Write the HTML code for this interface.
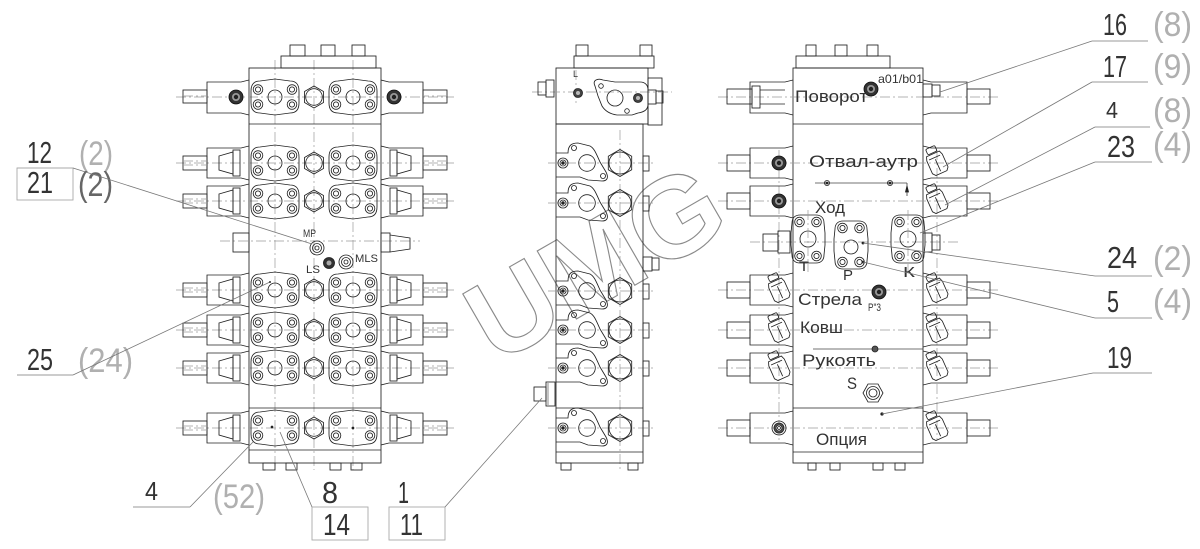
<!DOCTYPE html>
<html><head><meta charset="utf-8"><style>
html,body{margin:0;padding:0;background:#fff;}
svg{display:block;}
text{font-family:"Liberation Sans","DejaVu Sans",sans-serif;stroke:none;}
.cl{stroke:#9a9a9a;stroke-width:0.7;stroke-dasharray:10 3 2 3;fill:none}
.ld{stroke:#777;stroke-width:0.8;fill:none}
.lg{stroke:#aaa;stroke-width:0.9;fill:none}
</style></head><body>
<svg width="1200" height="549" viewBox="0 0 1200 549" xmlns="http://www.w3.org/2000/svg" xmlns:xlink="http://www.w3.org/1999/xlink">
<defs>
<g id="bolt"><circle r="4.8"/><circle r="2.6"/></g>
<g id="fl">
<path d="M-24,-6 C-24,-13 -21,-16 -15,-16 L0,-18 L15,-16 C21,-16 24,-13 24,-6 L24,6 C24,13 21,16 15,16 L0,18 L-15,16 C-21,16 -24,13 -24,6 Z"/>
<use href="#bolt" x="-17" y="-7.5"/><use href="#bolt" x="17" y="-7.5"/><use href="#bolt" x="-17" y="7.5"/><use href="#bolt" x="17" y="7.5"/>
</g>
<g id="hex"><polygon points="0,-11 9.5,-5.5 9.5,5.5 0,11 -9.5,5.5 -9.5,-5.5"/><circle r="8.3"/></g>
<g id="hexb"><polygon points="0,-13.5 11.7,-6.7 11.7,6.7 0,13.5 -11.7,6.7 -11.7,-6.7"/><circle r="11"/></g>
<g id="dplug"><circle r="7" fill="#333" stroke="#111"/><circle r="4" fill="#999" stroke="none"/><circle r="2.2" fill="#222" stroke="none"/></g>
<g id="lp">
<path d="M249,-17 L241,-15 L207,-15 L207,15 L241,15 L249,17"/>
<rect x="183" y="-7" width="24" height="14"/>
<line class="cl" x1="183" y1="-2" x2="207" y2="-2"/><line class="cl" x1="183" y1="2" x2="207" y2="2"/>
<path d="M219,-7 L233,-11 L233,11 L219,7 Z"/>
<rect x="233" y="-13" width="7" height="26"/>
</g>
<g id="lp1">
<path d="M249,-17 L241,-15 L207,-15 L207,16 L241,16 L249,18"/>
<rect x="183" y="-7" width="24" height="13"/>
<line class="cl" x1="183" y1="-1" x2="207" y2="-1"/>
<use href="#dplug" x="236"/>
</g>
<g id="lvcore">
<line class="cl" x1="176" y1="0" x2="454" y2="0"/>
<use href="#fl" x="275"/><use href="#fl" x="353"/>
<use href="#hex" x="314"/>
<use href="#lp"/>
<use href="#lp" transform="translate(630,0) scale(-1,1)"/>
</g>
<g id="lvrow"><use href="#lvcore"/><circle cx="275" r="7"/><circle cx="353" r="7"/></g>
<g id="mvrow">
<line class="cl" x1="548" y1="0" x2="656" y2="0"/>
<path d="M556,-10 L568,-10 C568,-18 572,-20 578,-20 L590,-17 C594,-15 596,-10 600,-1 L606,9 C609,15 607,18 602,18 L588,17 L580,14 L556,14"/>
<circle cx="574" cy="-15" r="2.5"/><circle cx="603" cy="13" r="2.5"/>
<circle cx="563" r="5"/><circle cx="563" r="3"/><circle cx="563" r="1.3" fill="#222"/>
<circle cx="587" r="8.3"/>
<use href="#hexb" x="620"/>
<rect x="643" y="-7" width="6" height="15"/>
</g>
<g id="rlp">
<path d="M793,-17 L785,-15 L750,-15 L750,15 L785,15 L793,17"/>
<rect x="727" y="-8" width="23" height="16"/>
</g>
<g id="rrp">
<path d="M923,-17 L931,-15 L967,-15 L967,15 L931,15 L923,17"/>
<rect x="967" y="-8" width="23" height="16"/>
</g>
<g id="rvrow"><line class="cl" x1="718" y1="0" x2="1000" y2="0"/><use href="#rlp"/><use href="#rrp"/></g>
<g id="afit"><g transform="rotate(-24)">
<rect x="-5" y="-17" width="10" height="6" rx="1.5"/>
<path d="M-7,-10 L7,-10 L8.5,-6 L8.5,8 L6,11 L-6,11 L-8.5,8 L-8.5,-6 Z"/>
<line x1="-6" y1="-6" x2="6" y2="-6"/><line x1="0" y1="-4" x2="0" y2="9"/>
</g></g>
<g id="vfl">
<path d="M-8,-24 L8,-24 C13,-24 16,-21 16,-16 L17,-6 L17,6 L16,16 C16,21 13,24 8,24 L-8,24 C-13,24 -16,21 -16,16 L-17,6 L-17,-6 L-16,-16 C-16,-21 -13,-24 -8,-24 Z"/>
<use href="#bolt" x="-8.5" y="-17"/><use href="#bolt" x="8.5" y="-17"/><use href="#bolt" x="-8.5" y="17"/><use href="#bolt" x="8.5" y="17"/>
</g>
</defs>

<!-- watermark -->
<text x="0" y="40" transform="translate(595,262) rotate(-30)" text-anchor="middle" font-size="114" font-weight="bold" textLength="275" lengthAdjust="spacingAndGlyphs" style="fill:none;stroke:#8a8a8a;stroke-width:1.1">UMG</text>

<g fill="none" stroke="#222" stroke-width="0.85">
<!-- ============ LEFT VIEW ============ -->
<line class="cl" x1="275" y1="60" x2="275" y2="470"/>
<line class="cl" x1="314" y1="60" x2="314" y2="470"/>
<line class="cl" x1="353" y1="60" x2="353" y2="470"/>
<rect x="290" y="45" width="15" height="11"/><rect x="321" y="45" width="14" height="11"/><rect x="352" y="45" width="13" height="11"/>
<rect x="281" y="56" width="95" height="12"/>
<rect x="249" y="68" width="132" height="395"/>
<line x1="249" y1="124" x2="381" y2="124"/>
<line x1="249" y1="408" x2="381" y2="408"/>
<line x1="249" y1="450" x2="381" y2="450"/>
<rect x="263" y="463" width="12" height="7"/><rect x="286" y="463" width="11" height="7"/><rect x="330" y="463" width="11" height="7"/><rect x="351" y="463" width="11" height="7"/>
<!-- row 1 -->
<g transform="translate(0,97)">
<line class="cl" x1="176" y1="0" x2="454" y2="0"/>
<use href="#fl" x="275"/><use href="#fl" x="353"/><use href="#hex" x="314"/>
<circle cx="275" r="7"/><circle cx="353" r="7"/>
<use href="#lp1"/><use href="#lp1" transform="translate(630,0) scale(-1,1)"/>
</g>
<use href="#lvrow" y="163"/>
<use href="#lvrow" y="201"/>
<use href="#lvrow" y="290"/>
<use href="#lvrow" y="330"/>
<use href="#lvrow" y="368"/>
<use href="#lvcore" y="428"/>
<circle cx="272" cy="427" r="0.9" fill="#222"/><circle cx="353" cy="428" r="0.9" fill="#222"/>
<!-- middle row LV -->
<line class="cl" x1="220" y1="241" x2="420" y2="241"/>
<rect x="233" y="233" width="16" height="19"/>
<rect x="381" y="233" width="9" height="19"/>
<path d="M390,235 L410,238 L410,249 L390,252"/>
<circle cx="317" cy="248" r="7"/><circle cx="317" cy="248" r="4.5"/><circle cx="317" cy="248" r="2"/>
<circle cx="346" cy="262" r="7"/><circle cx="346" cy="262" r="4.5"/><circle cx="346" cy="262" r="2"/>
<circle cx="329" cy="263" r="5.5" fill="#333"/><circle cx="329" cy="263" r="2.5" fill="#aaa" stroke="none"/>
<text x="303" y="237" font-size="11" textLength="13" lengthAdjust="spacingAndGlyphs" fill="#333">MP</text>
<text x="306" y="273" font-size="11" textLength="14" lengthAdjust="spacingAndGlyphs" fill="#333">LS</text>
<text x="355" y="262" font-size="11" textLength="23" lengthAdjust="spacingAndGlyphs" fill="#333">MLS</text>

<!-- ============ MIDDLE VIEW ============ -->
<line class="cl" x1="620" y1="130" x2="620" y2="470"/>
<rect x="576" y="45" width="12" height="11"/><rect x="640" y="45" width="12" height="11"/>
<rect x="574" y="56" width="80" height="12"/>
<rect x="556" y="68" width="92" height="56"/>
<rect x="648" y="78" width="14" height="47"/>
<rect x="556" y="124" width="87" height="339"/>
<line x1="556" y1="408" x2="643" y2="408"/>
<line x1="556" y1="452" x2="643" y2="452"/>
<rect x="561" y="463" width="10" height="7"/><rect x="628" y="463" width="10" height="7"/>
<!-- top section detail -->
<line class="cl" x1="532" y1="92" x2="672" y2="92"/>
<line class="cl" x1="576" y1="70" x2="576" y2="104"/>
<path d="M595,86 C592,80 598,78 603,80 L615,82 L640,82 C646,82 648,86 648,90 L648,104 C648,110 644,112 638,113 L632,115 L617,115 C610,114 605,111 602,106 L598,96 Z"/>
<circle cx="615" cy="98" r="8"/><circle cx="601" cy="86" r="2.3"/><circle cx="627" cy="111" r="2.3"/>
<circle cx="638" cy="98" r="4.5" fill="#444"/><circle cx="638" cy="98" r="2" fill="#bbb" stroke="none"/>
<circle cx="578" cy="93" r="4.5" fill="#444"/><circle cx="578" cy="93" r="2" fill="#bbb" stroke="none"/>
<rect x="538" y="82" width="8" height="13"/><rect x="546" y="80" width="8" height="17"/>
<rect x="648" y="90" width="8" height="14"/><rect x="656" y="91" width="7" height="12"/>
<text x="573" y="77" font-size="9" fill="#333">L</text>
<use href="#mvrow" y="163"/>
<use href="#mvrow" y="203"/>
<use href="#mvrow" y="291"/>
<use href="#mvrow" y="330"/>
<use href="#mvrow" y="368"/>
<use href="#mvrow" y="428"/>
<rect x="643" y="257" width="9" height="14"/><rect x="652" y="258" width="7" height="12"/>
<rect x="534" y="387" width="12" height="14"/><rect x="546" y="382" width="9" height="24"/>
<line x1="548" y1="383" x2="548" y2="405" stroke="#777"/>

<!-- ============ RIGHT VIEW ============ -->
<line class="cl" x1="779" y1="150" x2="779" y2="440"/>
<line class="cl" x1="937" y1="150" x2="937" y2="440"/>
<rect x="806" y="45" width="10" height="11"/><rect x="835" y="45" width="12" height="11"/><rect x="867" y="45" width="11" height="11"/>
<rect x="796" y="56" width="94" height="12"/>
<rect x="793" y="68" width="130" height="395"/>
<line x1="793" y1="124" x2="923" y2="124"/>
<line x1="793" y1="408" x2="923" y2="408"/>
<line x1="793" y1="452" x2="923" y2="452"/>
<rect x="808" y="463" width="8" height="7"/><rect x="830" y="463" width="10" height="7"/><rect x="873" y="463" width="10" height="7"/><rect x="895" y="463" width="10" height="7"/>
<!-- row 1 RV -->
<line class="cl" x1="718" y1="97" x2="1000" y2="97"/>
<path d="M793,80 L785,82 L750,82 L750,113 L785,113 L793,115"/>
<rect x="727" y="89" width="25" height="15"/>
<rect x="752" y="86" width="8" height="22"/>
<line x1="760" y1="90" x2="785" y2="90"/><line x1="760" y1="104" x2="785" y2="104"/>
<path d="M923,80 L931,82 L967,82 L967,113 L931,113 L923,115"/>
<rect x="967" y="89" width="23" height="15"/>
<rect x="923" y="84" width="9" height="13"/><rect x="932" y="85" width="8" height="11"/>
<use href="#rvrow" y="163"/>
<use href="#rvrow" y="201"/>
<use href="#rvrow" y="290"/>
<use href="#rvrow" y="330"/>
<use href="#rvrow" y="368"/>
<use href="#rvrow" y="428"/>
<!-- row 240 RV -->
<line class="cl" x1="750" y1="242" x2="960" y2="242"/>
<rect x="763" y="234" width="15" height="17"/><rect x="778" y="231" width="12" height="22"/>
<rect x="923" y="233" width="9" height="19"/><rect x="932" y="235" width="8" height="15"/>
<use href="#dplug" x="779" y="163"/>
<use href="#dplug" x="779" y="201"/>
<g transform="translate(779,428)"><circle r="7"/><circle r="5" fill="#555"/><circle r="3" fill="#fff"/><circle r="1.5"/></g>
<use href="#afit" x="779" y="290"/>
<use href="#afit" x="779" y="330"/>
<use href="#afit" x="779" y="368"/>
<use href="#afit" x="937" y="163"/>
<use href="#afit" x="937" y="201"/>
<use href="#afit" x="937" y="290"/>
<use href="#afit" x="937" y="330"/>
<use href="#afit" x="937" y="368"/>
<use href="#afit" x="937" y="428"/>
<!-- flanges Ход -->
<use href="#vfl" x="808" y="239"/><circle cx="808" cy="239" r="8"/>
<use href="#vfl" x="851" y="245"/><circle cx="851" cy="247" r="7"/>
<use href="#vfl" x="908" y="239"/><circle cx="908" cy="239" r="8"/>
<line class="cl" x1="808" y1="210" x2="808" y2="272"/>
<line class="cl" x1="908" y1="210" x2="908" y2="272"/>
<!-- misc RV -->
<use href="#dplug" x="871" y="89"/>
<use href="#dplug" x="879" y="292"/>
<line x1="815" y1="183" x2="907" y2="183" stroke="#444"/>
<circle cx="827" cy="183" r="2.5"/><circle cx="827" cy="183" r="1" fill="#222"/>
<circle cx="890" cy="183" r="2.5"/><circle cx="890" cy="183" r="1" fill="#222"/>
<line x1="907" y1="183" x2="907" y2="196" stroke="#444"/>
<path d="M905.5,192 L907,186 L908.5,192 Z" fill="#222"/>
<line x1="813" y1="349" x2="923" y2="349" stroke="#444"/>
<circle cx="875" cy="349" r="3" fill="#555"/>
<polygon points="863,393 868,384 878,384 883,393 878,402 868,402"/>
<circle cx="873" cy="393" r="6.5"/><circle cx="873" cy="393" r="4"/>
<circle cx="882" cy="414" r="1.2" fill="#222"/>
<circle cx="863" cy="243" r="1" fill="#222"/>
<circle cx="863" cy="262" r="1" fill="#222"/>
</g>

<!-- RV texts -->
<g fill="#333">
<text x="795" y="102" font-size="16.5" textLength="73" lengthAdjust="spacingAndGlyphs">Поворот</text>
<text x="878" y="83" font-size="12" textLength="45" lengthAdjust="spacingAndGlyphs">a01/b01</text>
<text x="809" y="167" font-size="16.5" textLength="109" lengthAdjust="spacingAndGlyphs">Отвал-аутр</text>
<text x="815" y="213" font-size="16.5" textLength="30" lengthAdjust="spacingAndGlyphs">Ход</text>
<text x="799" y="271" font-size="14" textLength="10" lengthAdjust="spacingAndGlyphs">Т</text>
<text x="843" y="280" font-size="15" textLength="10" lengthAdjust="spacingAndGlyphs">Р</text>
<text x="903" y="277" font-size="15" textLength="12" lengthAdjust="spacingAndGlyphs">К</text>
<text x="798" y="305" font-size="16.5" textLength="64" lengthAdjust="spacingAndGlyphs">Стрела</text>
<text x="868" y="311" font-size="11" textLength="13" lengthAdjust="spacingAndGlyphs">Р"3</text>
<text x="800" y="333" font-size="16.5" textLength="43" lengthAdjust="spacingAndGlyphs">Ковш</text>
<text x="802" y="366" font-size="16.5" textLength="74" lengthAdjust="spacingAndGlyphs">Рукоять</text>
<text x="847" y="389" font-size="17" textLength="10" lengthAdjust="spacingAndGlyphs">S</text>
<text x="816" y="445" font-size="16.5" textLength="51" lengthAdjust="spacingAndGlyphs">Опция</text>
</g>

<!-- ============ LABELS ============ -->
<g>
<!-- left labels -->
<text x="27" y="163" font-size="31" textLength="25" lengthAdjust="spacingAndGlyphs" fill="#333">12</text>
<text x="79" y="165" font-size="34" textLength="34" lengthAdjust="spacingAndGlyphs" fill="#b0b0b0">(2)</text>
<line class="ld" x1="17" y1="168" x2="73" y2="168"/>
<rect class="lg" x="17" y="168" width="56" height="32"/>
<text x="27" y="193" font-size="31" textLength="26" lengthAdjust="spacingAndGlyphs" fill="#333">21</text>
<text x="78" y="196" font-size="34" textLength="35" lengthAdjust="spacingAndGlyphs" fill="#666">(2)</text>
<line class="ld" x1="73" y1="168" x2="312" y2="244"/>

<text x="27" y="370" font-size="31" textLength="26" lengthAdjust="spacingAndGlyphs" fill="#333">25</text>
<text x="78" y="372" font-size="34" textLength="55" lengthAdjust="spacingAndGlyphs" fill="#b0b0b0">(24)</text>
<line class="ld" x1="17" y1="375" x2="73" y2="375"/>
<line class="ld" x1="73" y1="375" x2="270" y2="282"/>
<circle cx="270" cy="282" r="1" fill="#333"/>

<!-- bottom labels -->
<text x="145" y="500" font-size="26" textLength="13" lengthAdjust="spacingAndGlyphs" fill="#333">4</text>
<line class="ld" x1="133" y1="507" x2="190" y2="507"/>
<line class="ld" x1="190" y1="507" x2="253" y2="442"/>
<text x="213" y="508" font-size="34" textLength="52" lengthAdjust="spacingAndGlyphs" fill="#b0b0b0">(52)</text>

<text x="322" y="503" font-size="31" textLength="16" lengthAdjust="spacingAndGlyphs" fill="#333">8</text>
<rect class="lg" x="312" y="507" width="56" height="33"/>
<text x="323" y="535" font-size="31" textLength="27" lengthAdjust="spacingAndGlyphs" fill="#333">14</text>
<line class="ld" x1="312" y1="507" x2="280" y2="432"/>

<text x="398" y="503" font-size="31" textLength="11" lengthAdjust="spacingAndGlyphs" fill="#333">1</text>
<rect class="lg" x="389" y="507" width="56" height="33"/>
<text x="400" y="535" font-size="31" textLength="23" lengthAdjust="spacingAndGlyphs" fill="#333">11</text>
<line class="ld" x1="445" y1="507" x2="542" y2="398"/>

<!-- right labels -->
<text x="1103" y="35" font-size="31" textLength="24" lengthAdjust="spacingAndGlyphs" fill="#333">16</text>
<text x="1153" y="36" font-size="34" textLength="39" lengthAdjust="spacingAndGlyphs" fill="#b0b0b0">(8)</text>
<line class="ld" x1="1092" y1="41" x2="1148" y2="41"/>
<line class="ld" x1="1092" y1="41" x2="940" y2="92"/>

<text x="1103" y="77" font-size="31" textLength="24" lengthAdjust="spacingAndGlyphs" fill="#333">17</text>
<text x="1153" y="78" font-size="34" textLength="39" lengthAdjust="spacingAndGlyphs" fill="#b0b0b0">(9)</text>
<line class="ld" x1="1092" y1="82" x2="1148" y2="82"/>
<line class="ld" x1="1092" y1="82" x2="943" y2="167"/>

<text x="1106" y="118" font-size="23" textLength="12" lengthAdjust="spacingAndGlyphs" fill="#333">4</text>
<text x="1153" y="122" font-size="34" textLength="39" lengthAdjust="spacingAndGlyphs" fill="#b0b0b0">(8)</text>
<line class="ld" x1="1095" y1="127" x2="1150" y2="127"/>
<line class="ld" x1="1095" y1="127" x2="945" y2="205"/>

<text x="1107" y="157" font-size="31" textLength="28" lengthAdjust="spacingAndGlyphs" fill="#333">23</text>
<text x="1153" y="156" font-size="34" textLength="39" lengthAdjust="spacingAndGlyphs" fill="#b0b0b0">(4)</text>
<line class="ld" x1="1095" y1="162" x2="1152" y2="162"/>
<line class="ld" x1="1095" y1="162" x2="920" y2="233"/>

<text x="1107" y="268" font-size="31" textLength="30" lengthAdjust="spacingAndGlyphs" fill="#333">24</text>
<text x="1153" y="270" font-size="34" textLength="39" lengthAdjust="spacingAndGlyphs" fill="#b0b0b0">(2)</text>
<line class="ld" x1="1095" y1="276" x2="1152" y2="276"/>
<line class="ld" x1="1095" y1="276" x2="863" y2="243"/>

<text x="1107" y="312" font-size="31" textLength="12" lengthAdjust="spacingAndGlyphs" fill="#333">5</text>
<text x="1153" y="313" font-size="34" textLength="39" lengthAdjust="spacingAndGlyphs" fill="#b0b0b0">(4)</text>
<line class="ld" x1="1095" y1="318" x2="1152" y2="318"/>
<line class="ld" x1="1095" y1="318" x2="863" y2="262"/>

<text x="1107" y="368" font-size="31" textLength="25" lengthAdjust="spacingAndGlyphs" fill="#333">19</text>
<line class="ld" x1="1093" y1="373" x2="1152" y2="373"/>
<line class="ld" x1="1093" y1="373" x2="882" y2="414"/>
</g>
</svg>
</body></html>
